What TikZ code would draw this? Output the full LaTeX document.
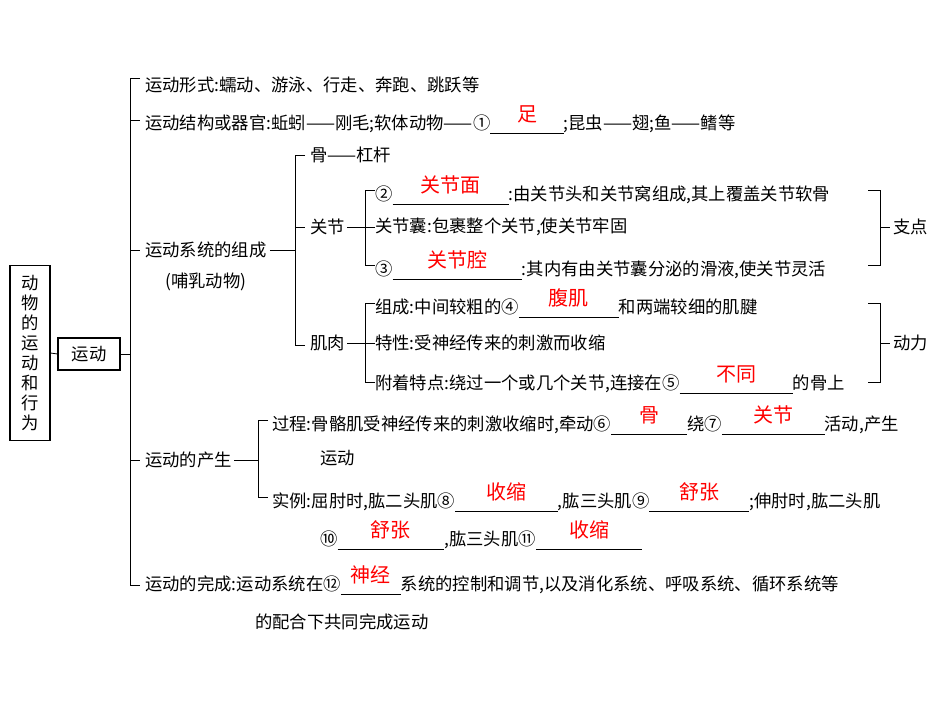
\documentclass[tikz,border=0pt]{standalone}
\usepackage{fontspec}
\setmainfont{Noto Sans CJK SC}
\newcommand\ans[2]{\rlap{\rule[-3pt]{#1pt}{0.5pt}}\makebox[#1pt]{\raisebox{6pt}{\color{red}\fontsize{15}{15}\selectfont #2}}}
\begin{document}
\begin{tikzpicture}[x=0.75pt,y=-0.75pt,
  t/.style={anchor=west,inner sep=0pt,font=\fontsize{13}{15}\selectfont},
  br/.style={line width=0.6pt}]
\useasboundingbox (0,0) rectangle (950,713);
\node[draw,line width=0.8pt,minimum width=40*0.75pt,minimum height=175*0.75pt,inner sep=1pt,font=\fontsize{13}{15}\selectfont,align=center] (root) at (30,353) {动\\物\\的\\运\\动\\和\\行\\为};
\node[draw,line width=0.8pt,minimum width=62*0.75pt,minimum height=32*0.75pt,font=\fontsize{13}{15}\selectfont] (yd) at (89,354) {运动};
\draw[br] (root.east) -- (yd.west);
% main bracket
\draw[br] (yd.east) -- (130,354);
\draw[br] (140,78) -- (130,78) -- (130,585) -- (140,585);
\foreach \y in {120,250,460} \draw[br] (130,\y) -- (140,\y);
\node[t] (r1) at (145,85) {运动形式:蠕动、游泳、行走、奔跑、跳跃等};
\node[t] (r2) at (145,120) {运动结构或器官:蚯蚓——刚毛;软体动物——①\ans{55}{足};昆虫——翅;鱼——鳍等};
\node[t] (r3) at (145,250) {运动系统的组成};
\node[t] (r3b) at (165,282) {(哺乳动物)};
\node[t] (r4) at (145,460) {运动的产生};
\node[t] (r5) at (145,580) {运动的完成:运动系统在⑫\ans{45}{神经}系统的控制和调节,以及消化系统、呼吸系统、循环系统等};
\node[t] (r5b) at (255,622) {的配合下共同完成运动};
% 运动系统 bracket
\draw[br] (r3.east) ++(3,0) -- (295,250);
\draw[br] (305,155) -- (295,155) -- (295,345) -- (305,345);
\draw[br] (295,227) -- (305,227);
\node[t] (g) at (310,155) {骨——杠杆};
\node[t] (gj) at (310,227) {关节};
\node[t] (jr) at (310,343) {肌肉};
% 关节
\draw[br] (gj.east) ++(2,0) -- (365,227);
\draw[br] (375,190) -- (365,190) -- (365,265) -- (375,265);
\draw[br] (365,227) -- (375,227);
\node[t] (j1) at (375,190) {②\ans{87}{关节面}:由关节头和关节窝组成,其上覆盖关节软骨};
\node[t] (j2) at (375,227) {关节囊:包裹整个关节,使关节牢固};
\node[t] (j3) at (375,265) {③\ans{97}{关节腔}:其内有由关节囊分泌的滑液,使关节灵活};
\draw[br] (868,190) -- (880,190) -- (880,265) -- (868,265);
\draw[br] (880,227) -- (890,227);
\node[t] (zd) at (893,227) {支点};
% 肌肉
\draw[br] (jr.east) ++(2,0) -- (365,343);
\draw[br] (375,303) -- (365,303) -- (365,382) -- (375,382);
\draw[br] (365,343) -- (375,343);
\node[t] (m1) at (375,303) {组成:中间较粗的④\ans{75}{腹肌}和两端较细的肌腱};
\node[t] (m2) at (375,343) {特性:受神经传来的刺激而收缩};
\node[t] (m3) at (375,380) {附着特点:绕过一个或几个关节,连接在⑤\ans{85}{不同}的骨上};
\draw[br] (868,303) -- (880,303) -- (880,382) -- (868,382);
\draw[br] (880,343) -- (890,343);
\node[t] (dl) at (893,343) {动力};
% 运动的产生
\draw[br] (r4.east) ++(2,0) -- (258,460);
\draw[br] (268,420) -- (258,420) -- (258,497) -- (268,497);
\node[t] (p1) at (272,420) {过程:骨骼肌受神经传来的刺激收缩时,牵动⑥\ans{57}{骨}绕⑦\ans{77}{关节}活动,产生};
\node[t] (p1b) at (320,458) {运动};
\node[t] (p2) at (272,497) {实例:屈肘时,肱二头肌⑧\ans{77}{收缩},肱三头肌⑨\ans{75}{舒张};伸肘时,肱二头肌};
\node[t] (p2b) at (320,535) {⑩\ans{80}{舒张},肱三头肌⑪\ans{80}{收缩}};
\end{tikzpicture}
\end{document}
